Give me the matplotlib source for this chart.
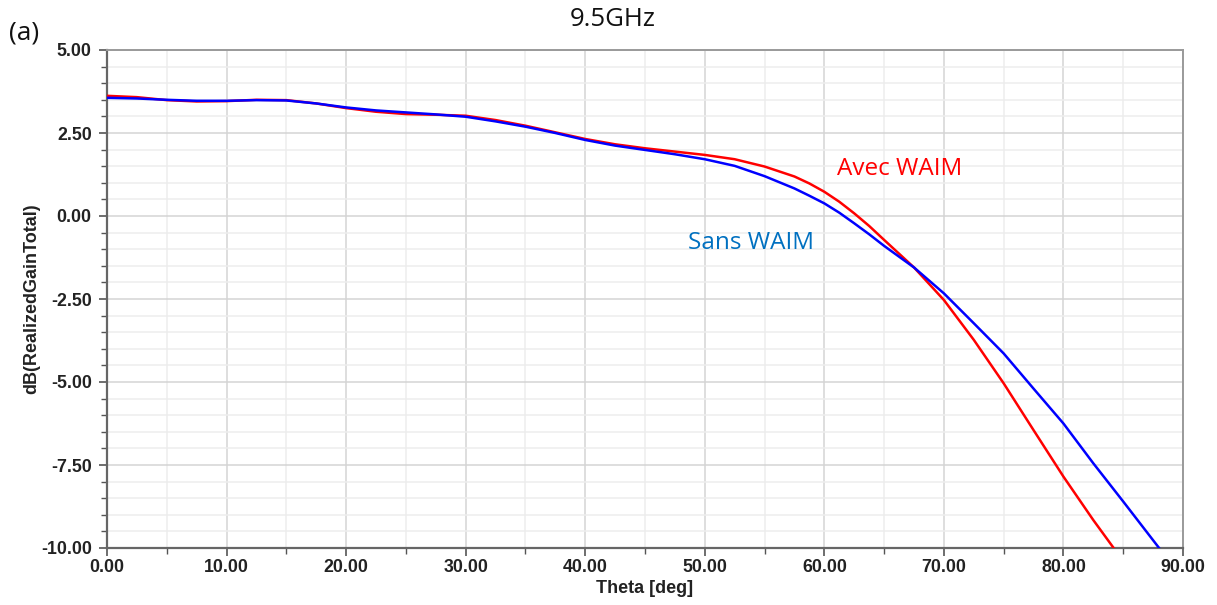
import matplotlib
matplotlib.use("Agg")
import matplotlib.pyplot as plt
from matplotlib.ticker import MultipleLocator, FormatStrFormatter

# Data
theta_avec = [0, 2.5, 5, 7.5, 10, 12.5, 15, 17.5, 20, 22.5, 25, 27.5, 30, 32.5, 35,
              37.5, 40, 42.5, 45, 47.5, 50, 52.5, 55, 57.5, 58.75, 60, 61.25, 62.5,
              63.75, 65, 67.5, 70, 72.5, 75, 77.5, 80, 82.5, 84.2]
gain_avec = [3.62, 3.58, 3.49, 3.45, 3.46, 3.50, 3.49, 3.39, 3.25, 3.14, 3.07, 3.05, 3.02,
             2.89, 2.72, 2.52, 2.32, 2.16, 2.04, 1.94, 1.84, 1.71, 1.49, 1.19, 0.98, 0.73,
             0.43, 0.08, -0.30, -0.72, -1.55, -2.53, -3.73, -5.04, -6.45, -7.85, -9.16, -10.0]

theta_sans = [0, 2.5, 5, 7.5, 10, 12.5, 15, 17.5, 20, 22.5, 25, 27.5, 30, 32.5, 35,
              37.5, 40, 42.5, 45, 47.5, 50, 52.5, 55, 57.5, 58.75, 60, 61.25, 62.5,
              63.75, 65, 67.5, 70, 72.5, 75, 77.5, 80, 82.5, 85, 88]
gain_sans = [3.56, 3.54, 3.50, 3.47, 3.47, 3.49, 3.48, 3.39, 3.27, 3.18, 3.12, 3.06, 2.99,
             2.85, 2.69, 2.50, 2.29, 2.12, 1.99, 1.86, 1.71, 1.51, 1.20, 0.83, 0.61, 0.38,
             0.10, -0.22, -0.55, -0.90, -1.55, -2.33, -3.23, -4.14, -5.2, -6.25, -7.45,
             -8.6, -10.0]

title = "9.5GHz"
panel = "(a)"
xlabel = "Theta [deg]"
ylabel = "dB(RealizedGainTotal)"
label_avec = "Avec WAIM"
label_sans = "Sans WAIM"

fig = plt.figure(figsize=(12.17, 6.05), dpi=100)
ax = fig.add_axes([107/1217, 1-548/605, (1183-107)/1217, (548-50)/605])

ax.plot(theta_avec, gain_avec, color="#ff0000", lw=1.8, zorder=3)
ax.plot(theta_sans, gain_sans, color="#0000ff", lw=1.8, zorder=4)

ax.set_xlim(0, 90)
ax.set_ylim(-10, 5)
ax.xaxis.set_major_locator(MultipleLocator(10))
ax.xaxis.set_minor_locator(MultipleLocator(5))
ax.yaxis.set_major_locator(MultipleLocator(2.5))
ax.yaxis.set_minor_locator(MultipleLocator(0.5))
ax.xaxis.set_major_formatter(FormatStrFormatter("%.2f"))
ax.yaxis.set_major_formatter(FormatStrFormatter("%.2f"))

ax.grid(which="major", color="#d4d4d4", lw=1.1, zorder=0)
ax.grid(which="minor", color="#ededed", lw=1.1, zorder=0)
ax.set_axisbelow(True)

ax.tick_params(which="both", direction="out", color="#555555", top=False, right=False)
ax.tick_params(which="major", length=6, width=1.2)
ax.tick_params(axis="y", which="major", pad=5)
ax.tick_params(axis="x", which="major", pad=2)
ax.tick_params(which="minor", length=4, width=1.0)
for lab in ax.get_xticklabels() + ax.get_yticklabels():
    lab.set_fontfamily("Liberation Sans")
    lab.set_fontweight("bold")
    lab.set_fontsize(12.8)
    lab.set_color("#222222")

for side in ("left", "bottom"):
    ax.spines[side].set_color("#666666")
    ax.spines[side].set_linewidth(1.6)
for side in ("top", "right"):
    ax.spines[side].set_color("#9a9a9a")
    ax.spines[side].set_linewidth(1.4)

ax.set_xlabel(xlabel, fontfamily="Liberation Sans", fontweight="bold", fontsize=13,
              color="#222222", labelpad=3)
ax.set_ylabel(ylabel, fontfamily="Liberation Sans", fontweight="bold", fontsize=13,
              color="#222222")
ax.yaxis.set_label_coords(-0.0625, 0.5)

fig.text(613/1217, 1-20/605, title, ha="center", va="center",
         fontfamily="Open Sans", fontsize=18.5, color="#111111")
fig.text(9/1217, 1-33/605, panel, ha="left", va="center",
         fontfamily="Open Sans", fontsize=19, color="#111111")

ax.text(61.1, 1.42, label_avec, color="#ff0000", fontfamily="Open Sans", fontsize=17.5,
        ha="left", va="center")
ax.text(48.6, -0.82, label_sans, color="#0070c0", fontfamily="Open Sans", fontsize=17.5,
        ha="left", va="center")

fig.savefig("out.png", dpi=100)
